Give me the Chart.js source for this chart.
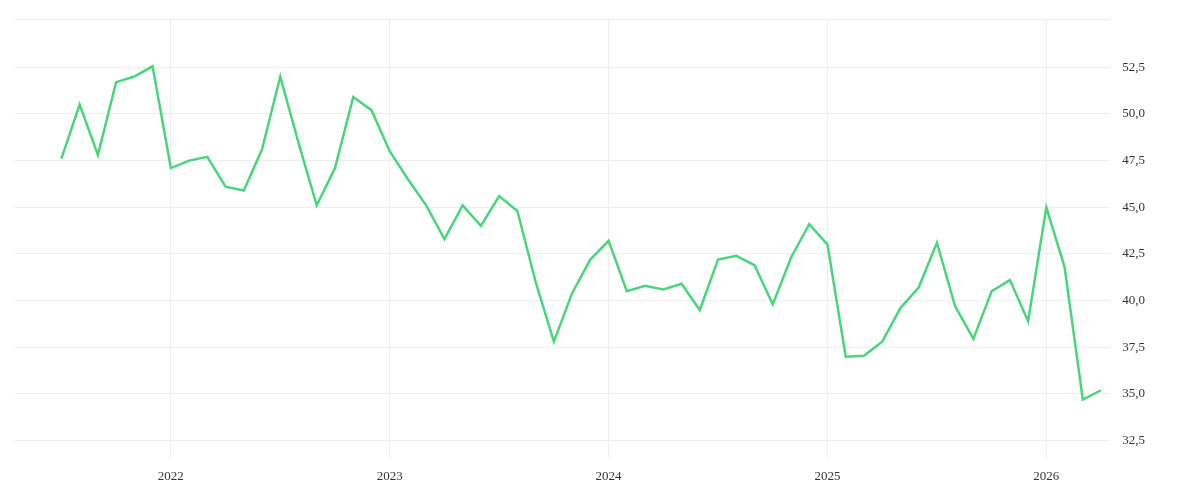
<!DOCTYPE html>
<html>
<head>
<meta charset="utf-8">
<script src="https://cdn.jsdelivr.net/npm/chart.js@4/dist/chart.umd.min.js"></script>
<style>
  html, body { margin: 0; padding: 0; background: #fff; }
  #wrap { width: 1200px; height: 500px; }
</style>
</head>
<body>
<div id="wrap"><canvas id="chart"></canvas></div>
<script>
// monthly values, Jul 2021 .. Apr 2026
const startYear = 2021;
const startMonth = 7;
const values = [
  47.6, 50.5, 47.8, 51.7, 52.0, 52.55,
  47.1, 47.5, 47.7, 46.1, 45.9, 48.1, 52.0, 48.45, 45.1, 47.1, 50.9, 50.2,
  48.0, 46.5, 45.1, 43.3, 45.1, 44.0, 45.6, 44.8, 41.0, 37.8, 40.4, 42.2,
  43.2, 40.5, 40.8, 40.6, 40.9, 39.5, 42.2, 42.4, 41.9, 39.8, 42.3, 44.1,
  43.0, 37.0, 37.05, 37.8, 39.6, 40.7, 43.1, 39.7, 37.95, 40.5, 41.1, 38.9,
  45.0, 41.8, 34.7, 35.2
];
const yTicks = [32.5, 35, 37.5, 40, 42.5, 45, 47.5, 50, 52.5];
const xTicks = [2022, 2023, 2024, 2025, 2026];

const points = values.map((v, i) => ({ x: startYear + (startMonth - 1 + i) / 12, y: v }));
const fmt = v => v.toFixed(1).replace('.', ',');

new Chart(document.getElementById('chart'), {
  type: 'line',
  data: {
    datasets: [{
      data: points,
      borderColor: '#4cd47c',
      borderWidth: 2.5,
      pointRadius: 0,
      tension: 0,
      fill: false
    }]
  },
  options: {
    responsive: true,
    maintainAspectRatio: false,
    animation: false,
    layout: { padding: { left: 15, top: 11, right: 43, bottom: 6 } },
    plugins: { legend: { display: false }, tooltip: { enabled: false } },
    scales: {
      x: {
        type: 'linear',
        min: 2021.288,
        max: 2026.292,
        afterBuildTicks: axis => { axis.ticks = xTicks.map(v => ({ value: v })); },
        grid: { color: '#eeeeee', drawTicks: false },
        border: { display: false },
        ticks: {
          padding: 10,
          color: '#333',
          font: { family: 'Liberation Serif', size: 13 },
          callback: v => String(v)
        }
      },
      y: {
        position: 'right',
        min: 31.55,
        max: 55.04,
        afterBuildTicks: axis => { axis.ticks = yTicks.concat([55.04]).map(v => ({ value: v })); },
        grid: { color: '#eeeeee', drawTicks: false },
        border: { display: false },
        ticks: {
          padding: 12,
          color: '#333',
          font: { family: 'Liberation Serif', size: 13 },
          callback: v => (v > 54 ? '' : fmt(v))
        }
      }
    }
  }
});
</script>
</body>
</html>
